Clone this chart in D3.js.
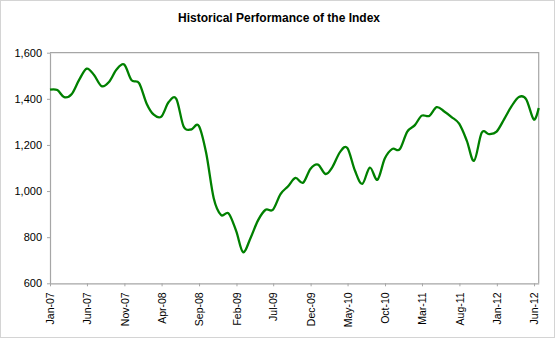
<!DOCTYPE html>
<html>
<head>
<meta charset="utf-8">
<script src="https://cdn.jsdelivr.net/npm/d3@7"></script>
<style>
  html, body { margin: 0; padding: 0; background: #fff; }
  svg { display: block; font-family: "Liberation Sans", Arial, sans-serif; }
</style>
</head>
<body>
<svg id="chart" width="557" height="341"></svg>
<script>
const title = "Historical Performance of the Index";

const dates = [
  "2007-01-01",
  "2007-01-31","2007-02-28","2007-03-31","2007-04-30","2007-05-31","2007-06-30",
  "2007-07-31","2007-08-31","2007-09-30","2007-10-31","2007-11-30","2007-12-31",
  "2008-01-31","2008-02-29","2008-03-31","2008-04-30","2008-05-31","2008-06-30",
  "2008-07-31","2008-08-31","2008-09-30","2008-10-31","2008-11-30","2008-12-31",
  "2009-01-31","2009-02-28","2009-03-31","2009-04-30","2009-05-31","2009-06-30",
  "2009-07-31","2009-08-31","2009-09-30","2009-10-31","2009-11-30","2009-12-31",
  "2010-01-31","2010-02-28","2010-03-31","2010-04-30","2010-05-31","2010-06-30",
  "2010-07-31","2010-08-31","2010-09-30","2010-10-31","2010-11-30","2010-12-31",
  "2011-01-31","2011-02-28","2011-03-31","2011-04-30","2011-05-31","2011-06-30",
  "2011-07-31","2011-08-31","2011-09-30","2011-10-31","2011-11-30","2011-12-31",
  "2012-01-31","2012-02-29","2012-03-31","2012-04-30","2012-05-31","2012-06-20"
];

const values = [
  1440,
  1438, 1407, 1421, 1482, 1531, 1503,
  1455, 1474, 1527, 1549, 1481, 1468,
  1379, 1331, 1323, 1386, 1400, 1280,
  1267, 1283, 1166,  969,  896,  903,
   826,  735,  798,  873,  919,  919,
   987, 1021, 1057, 1036, 1096, 1115,
  1074, 1104, 1169, 1187, 1089, 1031,
  1102, 1049, 1141, 1183, 1181, 1258,
  1286, 1327, 1326, 1364, 1345, 1321,
  1292, 1219, 1131, 1253, 1247, 1258,
  1312, 1366, 1408, 1398, 1310, 1360
];

const xTickLabels = ["Jan-07","Jun-07","Nov-07","Apr-08","Sep-08","Feb-09","Jul-09",
                     "Dec-09","May-10","Oct-10","Mar-11","Aug-11","Jan-12","Jun-12"];
const yTicks = [600, 800, 1000, 1200, 1400, 1600];
const xDomain = ["2007-01-01", "2012-06-20"];
const yDomain = [600, 1600];

const parseDate = d3.timeParse("%Y-%m-%d");
const parseLabel = d3.timeParse("%b-%y");
const fmtLabel = d3.timeFormat("%b-%y");

const data = dates.map((d, i) => ({ date: parseDate(d), value: values[i] }));

const svg = d3.select("#chart");
const W = 557, H = 341;
const plot = { left: 50, right: 538.7, top: 52.7, bottom: 283.3 };

// outer chart border
svg.append("rect")
  .attr("x", 0.5).attr("y", 0.5)
  .attr("width", W - 3).attr("height", H - 4)
  .attr("fill", "#fff")
  .attr("stroke", "#d4d4d4")
  .attr("stroke-width", 1);

const x = d3.scaleTime()
  .domain(xDomain.map(parseDate))
  .range([plot.left, plot.right]);

const y = d3.scaleLinear()
  .domain(yDomain)
  .range([plot.bottom, plot.top]);

// title
svg.append("text")
  .attr("x", 279).attr("y", 21.5)
  .attr("text-anchor", "middle")
  .attr("font-size", "12px")
  .attr("font-weight", "bold")
  .attr("fill", "#000")
  .text(title);

// plot frame (top & right)
svg.append("path")
  .attr("d", `M${plot.left},${plot.top}H${plot.right}V${plot.bottom}`)
  .attr("fill", "none")
  .attr("stroke", "#a6a6a6")
  .attr("stroke-width", 1.2);

// Y axis
const yAxis = svg.append("g")
  .attr("transform", `translate(${plot.left},0)`)
  .call(d3.axisLeft(y).tickValues(yTicks).tickSize(3).tickPadding(5)
        .tickFormat(d3.format(",")).tickSizeOuter(0));
yAxis.select(".domain").attr("stroke", "#a6a6a6").attr("stroke-width", 1.2);
yAxis.selectAll(".tick line").attr("stroke", "#a6a6a6");
yAxis.selectAll(".tick text")
  .attr("font-size", "11px")
  .attr("font-family", "'Liberation Sans', Arial, sans-serif")
  .attr("fill", "#000");

// X axis
const xTickDates = xTickLabels.map(parseLabel);
const xAxis = svg.append("g")
  .attr("transform", `translate(0,${plot.bottom})`)
  .call(d3.axisBottom(x).tickValues(xTickDates).tickSize(3).tickSizeOuter(0)
        .tickFormat(fmtLabel));
xAxis.select(".domain").attr("stroke", "#a6a6a6").attr("stroke-width", 1.2);
xAxis.selectAll(".tick line").attr("stroke", "#a6a6a6");
xAxis.selectAll(".tick text")
  .attr("font-size", "10.5px")
  .attr("font-family", "'Liberation Sans', Arial, sans-serif")
  .attr("fill", "#000")
  .attr("text-anchor", "end")
  .attr("transform", "rotate(-90)")
  .attr("x", -9)
  .attr("y", 0)
  .attr("dy", "0.35em");

// line
const line = d3.line()
  .x(d => x(d.date))
  .y(d => y(d.value))
  .curve(d3.curveCardinal.tension(0));

svg.append("path")
  .datum(data)
  .attr("d", line)
  .attr("fill", "none")
  .attr("stroke", "#008000")
  .attr("stroke-width", 2.3)
  .attr("stroke-linejoin", "round");
</script>
</body>
</html>
